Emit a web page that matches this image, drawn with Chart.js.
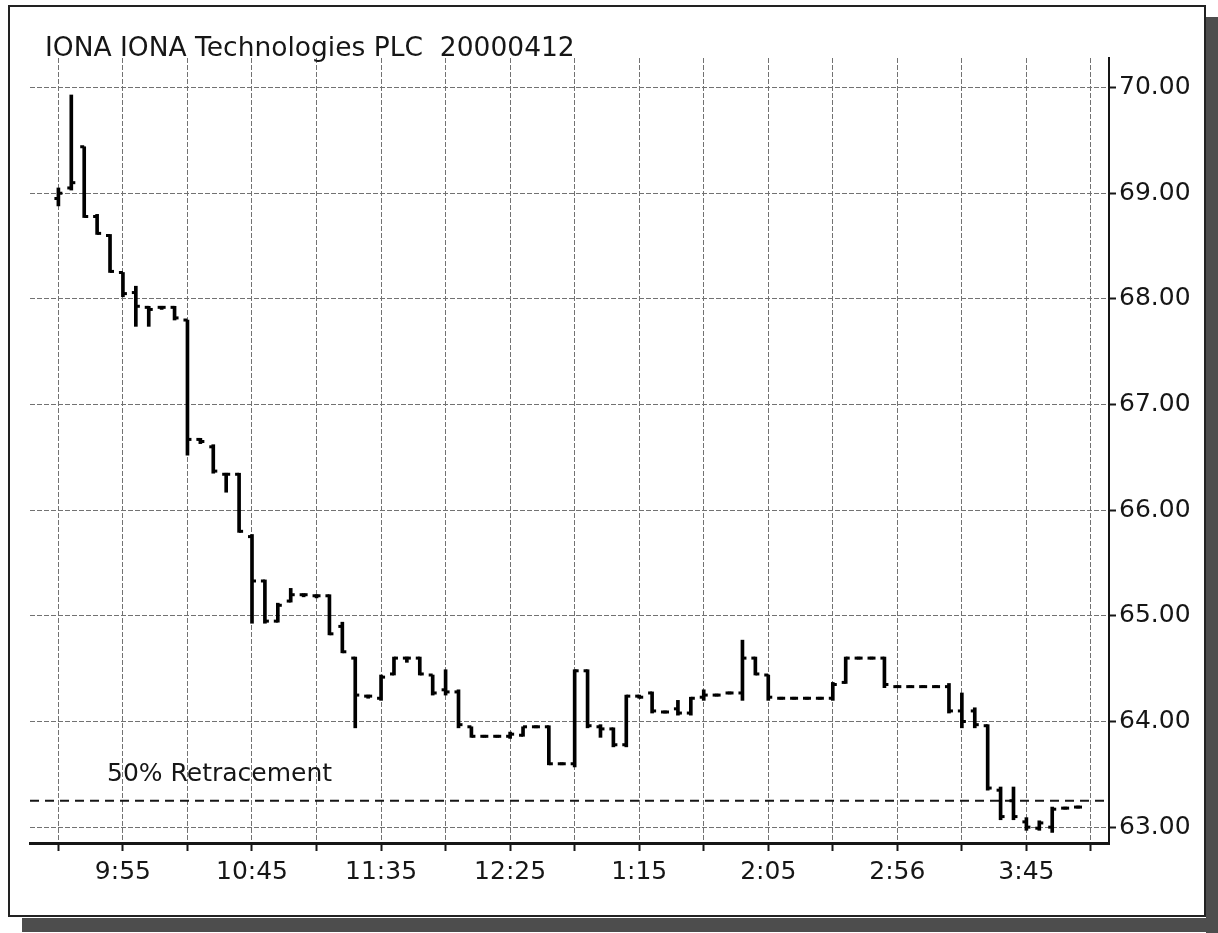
<!DOCTYPE html>
<html>
<head>
<meta charset="utf-8">
<title>IONA IONA Technologies PLC 20000412</title>
<script src="https://cdn.jsdelivr.net/npm/chart.js@4.4.1/dist/chart.umd.min.js"></script>
<style>
    html, body { margin: 0; padding: 0; background: #fff; }
    #wrap { position: relative; width: 1218px; height: 933px; }
</style>
</head>
<body>
<div id="wrap"><canvas id="priceChart" width="1218" height="933"></canvas></div>
<script>
// 5 minute bars, 9:30 to 4:05
const barTimes = [
    '9:30', '9:35', '9:40', '9:45', '9:50', '9:55', '10:00', '10:05', '10:10', '10:15',
    '10:20', '10:25', '10:30', '10:35', '10:40', '10:45', '10:50', '10:55', '11:00', '11:05',
    '11:10', '11:15', '11:20', '11:25', '11:30', '11:35', '11:40', '11:45', '11:50', '11:55',
    '12:00', '12:05', '12:10', '12:15', '12:20', '12:25', '12:30', '12:35', '12:40', '12:45',
    '12:50', '12:55', '1:00', '1:05', '1:10', '1:15', '1:20', '1:25', '1:30', '1:35',
    '1:40', '1:45', '1:50', '1:55', '2:00', '2:05', '2:10', '2:15', '2:20', '2:25',
    '2:30', '2:35', '2:40', '2:45', '2:50', '2:55', '3:00', '3:05', '3:10', '3:15',
    '3:20', '3:25', '3:30', '3:35', '3:40', '3:45', '3:50', '3:55', '4:00', '4:05'
];
const opens = [
    68.95, 69.05, 69.44, 68.78, 68.60, 68.25, 68.06, 67.92, 67.92, 67.92,
    67.80, 66.67, 66.60, 66.34, 66.34, 65.75, 65.33, 64.95, 65.14, 65.20,
    65.19, 65.19, 64.90, 64.60, 64.24, 64.22, 64.45, 64.60, 64.60, 64.44,
    64.30, 64.28, 63.95, 63.86, 63.86, 63.86, 63.87, 63.95, 63.95, 63.60,
    63.60, 64.48, 63.95, 63.93, 63.78, 64.24, 64.27, 64.09, 64.12, 64.08,
    64.23, 64.25, 64.27, 64.27, 64.60, 64.44, 64.22, 64.22, 64.22, 64.22,
    64.22, 64.37, 64.60, 64.60, 64.60, 64.33, 64.33, 64.33, 64.33, 64.33,
    64.10, 64.10, 63.96, 63.35, 63.25, 63.05, 62.99, 63.00, 63.18, 63.19
];
const highs = [
    69.05, 69.93, 69.44, 68.80, 68.61, 68.25, 68.12, 67.93, 67.93, 67.93,
    67.80, 66.68, 66.62, 66.35, 66.35, 65.77, 65.34, 65.12, 65.26, 65.21,
    65.20, 65.20, 64.94, 64.61, 64.25, 64.44, 64.61, 64.61, 64.61, 64.44,
    64.49, 64.30, 63.95, 63.87, 63.87, 63.90, 63.95, 63.96, 63.96, 63.61,
    64.49, 64.49, 63.97, 63.94, 64.25, 64.25, 64.28, 64.10, 64.20, 64.23,
    64.30, 64.26, 64.28, 64.77, 64.61, 64.44, 64.23, 64.23, 64.23, 64.23,
    64.37, 64.61, 64.61, 64.61, 64.61, 64.34, 64.34, 64.34, 64.34, 64.36,
    64.27, 64.13, 63.97, 63.38, 63.38, 63.09, 63.06, 63.19, 63.19, 63.20
];
const lows = [
    68.88, 69.03, 68.77, 68.61, 68.25, 68.02, 67.74, 67.74, 67.90, 67.80,
    66.52, 66.63, 66.35, 66.17, 65.79, 64.93, 64.93, 64.94, 65.13, 65.18,
    65.17, 64.82, 64.65, 63.94, 64.22, 64.20, 64.44, 64.56, 64.44, 64.25,
    64.25, 63.94, 63.85, 63.85, 63.85, 63.84, 63.86, 63.94, 63.59, 63.59,
    63.57, 63.94, 63.85, 63.76, 63.76, 64.22, 64.08, 64.08, 64.06, 64.06,
    64.20, 64.24, 64.26, 64.20, 64.44, 64.20, 64.21, 64.21, 64.21, 64.21,
    64.20, 64.36, 64.59, 64.59, 64.32, 64.32, 64.32, 64.32, 64.32, 64.08,
    63.94, 63.94, 63.35, 63.07, 63.07, 62.97, 62.97, 62.95, 63.17, 63.18
];
const closes = [
    69.00, 69.10, 68.78, 68.62, 68.26, 68.05, 67.93, 67.90, 67.92, 67.82,
    66.67, 66.65, 66.37, 66.34, 65.80, 65.33, 64.95, 65.10, 65.20, 65.20,
    65.19, 64.83, 64.66, 64.25, 64.24, 64.42, 64.60, 64.60, 64.45, 64.27,
    64.28, 63.97, 63.86, 63.86, 63.86, 63.88, 63.95, 63.95, 63.60, 63.60,
    64.48, 63.96, 63.93, 63.78, 64.24, 64.23, 64.10, 64.09, 64.08, 64.22,
    64.25, 64.25, 64.27, 64.60, 64.45, 64.23, 64.22, 64.22, 64.22, 64.22,
    64.35, 64.60, 64.60, 64.60, 64.35, 64.33, 64.33, 64.33, 64.33, 64.10,
    64.00, 63.97, 63.37, 63.10, 63.10, 63.00, 63.04, 63.17, 63.18, 63.19
];

// x axis: grid every 25 minutes from the open, labels on every other line
const xTickMinutes = [0, 25, 50, 75, 100, 125, 150, 175, 200, 225, 250, 275, 300, 325, 350, 375, 400];
const xTickLabels = ['', '9:55', '', '10:45', '', '11:35', '', '12:25', '', '1:15', '', '2:05', '', '2:56', '', '3:45', ''];
const yTickValues = [63, 64, 65, 66, 67, 68, 69, 70];

const retracementLevel = 63.25;
const retracementLabel = '50% Retracement';
const titleText = 'IONA IONA Technologies PLC  20000412';

const X_MIN = -11, X_MAX = 407;
const Y_MIN = 62.85, Y_MAX = 70.28;
const FONT = '"DejaVu Sans", "Liberation Sans", Arial, sans-serif';
const INK = '#161616';
const GRID = '#727272';

// minutes since 9:30 for a "h:mm" string (afternoon hours written 1..4)
function toMinutes(t) {
    let [h, m] = t.split(':').map(Number);
    if (h < 9) h += 12;
    return (h - 9) * 60 + m - 30;
}

const rangeData = barTimes.map((t, i) => ({ x: toMinutes(t), y: [lows[i], highs[i]] }));
const openData = barTimes.map((t, i) => ({ x: toMinutes(t), y: opens[i] }));
const closeData = barTimes.map((t, i) => ({ x: toMinutes(t), y: closes[i] }));

// frame, shadow and the free text
const decorPlugin = {
    id: 'decor',
    beforeDraw(chart) {
        const ctx = chart.ctx;
        ctx.save();
        ctx.fillStyle = '#fff';
        ctx.fillRect(0, 0, chart.width, chart.height);
        // drop shadow
        ctx.fillStyle = '#4d4d4d';
        ctx.fillRect(1206, 17, 12, 916);
        ctx.fillRect(22, 918, 1196, 14);
        // frame
        ctx.strokeStyle = '#222';
        ctx.lineWidth = 2;
        ctx.strokeRect(9, 6, 1196, 910);
        ctx.restore();
    },
    afterDraw(chart) {
        const ctx = chart.ctx;
        const y = chart.scales.y;
        const area = chart.chartArea;
        ctx.save();
        ctx.fillStyle = INK;
        ctx.textBaseline = 'alphabetic';
        ctx.font = '26.5px ' + FONT;
        ctx.fillText(titleText, 45, 56);
        ctx.font = '25px ' + FONT;
        ctx.fillText(retracementLabel, area.left + 77, y.getPixelForValue(retracementLevel) - 20);
        ctx.restore();
    }
};

const tickStyle = {
    pointStyle: 'dash',
    radius: 4,
    borderWidth: 3,
    borderColor: '#000',
    backgroundColor: '#000',
    order: 1
};

const ctx = document.getElementById('priceChart').getContext('2d');
new Chart(ctx, {
    type: 'scatter',
    data: {
        datasets: [
            {
                type: 'line',
                label: 'retracement',
                data: [{ x: X_MIN, y: retracementLevel }, { x: X_MAX, y: retracementLevel }],
                borderColor: INK,
                borderWidth: 2,
                borderDash: [9, 6],
                pointRadius: 0,
                order: 3
            },
            {
                type: 'bar',
                label: 'range',
                data: rangeData,
                backgroundColor: '#000',
                borderWidth: 0,
                barThickness: 3,
                order: 2
            },
            { label: 'open', data: openData, rotation: 180, ...tickStyle },
            { label: 'close', data: closeData, rotation: 0, ...tickStyle }
        ]
    },
    options: {
        responsive: false,
        animation: false,
        layout: { padding: { top: 58, left: 30, right: 0, bottom: 0 } },
        plugins: {
            legend: { display: false },
            tooltip: { enabled: false },
            title: { display: false }
        },
        scales: {
            x: {
                type: 'linear',
                min: X_MIN,
                max: X_MAX,
                offset: false,
                afterBuildTicks: scale => {
                    scale.ticks = xTickMinutes.map(v => ({ value: v }));
                },
                afterFit: scale => { scale.height = 90; },
                grid: {
                    offset: false,
                    color: GRID,
                    lineWidth: 1,
                    tickLength: 8,
                    tickColor: INK,
                    tickWidth: 2
                },
                border: { color: INK, width: 3, dash: [5, 2] },
                ticks: {
                    autoSkip: false,
                    maxRotation: 0,
                    padding: 6,
                    color: INK,
                    font: { family: FONT, size: 25 },
                    callback: (value) => {
                        const i = xTickMinutes.indexOf(value);
                        return i >= 0 ? xTickLabels[i] : '';
                    }
                }
            },
            y: {
                type: 'linear',
                position: 'right',
                min: Y_MIN,
                max: Y_MAX,
                afterBuildTicks: scale => {
                    scale.ticks = yTickValues.map(v => ({ value: v }));
                },
                afterFit: scale => { scale.width = 109; },
                grid: {
                    color: GRID,
                    lineWidth: 1,
                    tickLength: 7,
                    tickColor: INK,
                    tickWidth: 2
                },
                border: { color: INK, width: 2, dash: [5, 2] },
                ticks: {
                    padding: 3,
                    color: INK,
                    font: { family: FONT, size: 25 },
                    callback: (value) => value.toFixed(2)
                }
            }
        }
    },
    plugins: [decorPlugin]
});
</script>
</body>
</html>
